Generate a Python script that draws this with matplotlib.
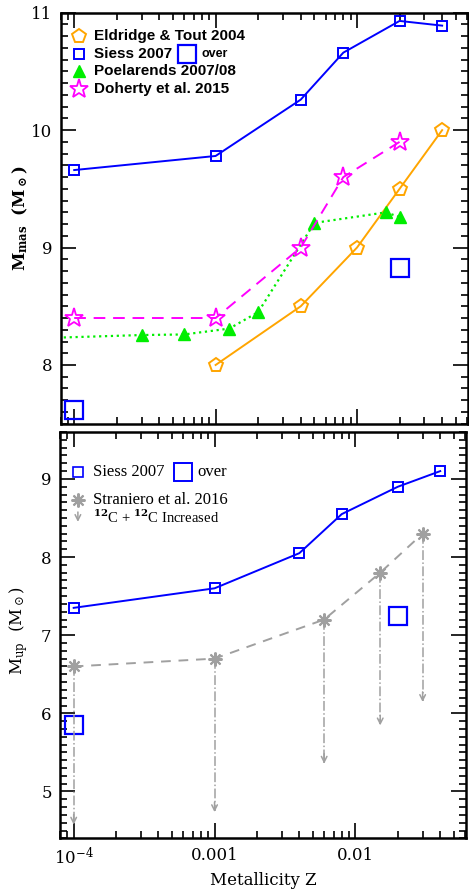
import numpy as np
import matplotlib
matplotlib.use('Agg')
from matplotlib import pyplot as plt
from matplotlib.ticker import MultipleLocator, FixedLocator, FixedFormatter, LogLocator, NullFormatter

# ---- top panel: M_mas ----
siess_z = [1e-4, 1e-3, 0.004, 0.008, 0.02, 0.04]
siess_mmas = [9.66, 9.78, 10.26, 10.66, 10.93, 10.89]
siess_over_z = [1e-4, 0.02]
siess_over_mmas = [7.62, 8.83]

eldridge_z = [1e-3, 0.004, 0.01, 0.02, 0.04]
eldridge_mmas = [8.0, 8.5, 9.0, 9.5, 10.0]

poel_z = [1e-5, 3e-4, 6e-4, 1.25e-3, 2e-3, 5e-3, 0.016, 0.02]
poel_mmas = [8.2, 8.255, 8.26, 8.31, 8.45, 9.21, 9.30, 9.26]

doherty_z = [1e-4, 1e-3, 0.004, 0.008, 0.02]
doherty_mmas = [8.40, 8.40, 9.0, 9.60, 9.90]

# ---- bottom panel: M_up ----
siess_mup = [7.35, 7.60, 8.05, 8.55, 8.90, 9.10]
siess_over_mup = [5.85, 7.25]

stran_z = [1e-4, 1e-3, 0.006, 0.015, 0.03]
stran_mup = [6.6, 6.7, 7.2, 7.8, 8.3]
stran_c12 = [4.54, 4.70, 5.32, 5.81, 6.11]   # 12C+12C increased (arrow tips)

xtick_vals = [1e-4, 1e-3, 1e-2]
xtick_labels = [r'10$^{-4}$', '0.001', '0.01']

BLUE = '#0000ff'
ORANGE = '#ffa500'
GREEN = '#00ee00'
MAGENTA = '#ff00ff'
GREY = '#a0a0a0'

plt.rcParams['font.family'] = ['DejaVu Serif']
plt.rcParams['mathtext.fontset'] = 'dejavuserif'

fig = plt.figure(figsize=(4.69, 8.89), dpi=100)
ax1 = fig.add_axes([0.129, 0.5234, 0.869, 0.4623])
ax2 = fig.add_axes([0.128, 0.057, 0.8657, 0.457])


def style_axis(ax, ylim, show_xlabels):
    ax.set_xscale('log')
    ax.set_xlim(8e-5, 0.061)
    ax.set_ylim(*ylim)
    ax.xaxis.set_major_locator(FixedLocator(xtick_vals))
    ax.xaxis.set_minor_locator(LogLocator(base=10, subs=np.arange(2, 10)))
    ax.xaxis.set_minor_formatter(NullFormatter())
    if show_xlabels:
        ax.xaxis.set_major_formatter(FixedFormatter(xtick_labels))
    else:
        ax.xaxis.set_major_formatter(NullFormatter())
    ax.yaxis.set_major_locator(MultipleLocator(1))
    ax.yaxis.set_minor_locator(MultipleLocator(0.1))
    ax.tick_params(which='both', direction='in', top=True, right=True, width=1.2)
    ax.tick_params(which='major', length=11, labelsize=12, pad=6)
    ax.tick_params(which='minor', length=5)
    for s in ax.spines.values():
        s.set_linewidth(1.8)


style_axis(ax1, (7.5, 11), False)
style_axis(ax2, (4.4, 9.6), True)

# top panel curves
ax1.plot(siess_z, siess_mmas, '-', color=BLUE, lw=1.4, marker='s', ms=7,
         mfc='none', mew=1.4)
ax1.plot(siess_over_z, siess_over_mmas, 's', color=BLUE, ms=13, mfc='none', mew=1.6)
ax1.plot(eldridge_z, eldridge_mmas, '-', color=ORANGE, lw=1.4, marker='p', ms=10,
         mfc='none', mew=1.4)
ax1.plot(poel_z, poel_mmas, ':', color=GREEN, lw=1.6, marker='^', ms=8,
         mec=GREEN, mfc=GREEN)
ax1.plot(doherty_z, doherty_mmas, '--', color=MAGENTA, lw=1.4, dashes=(6, 4),
         marker='*', ms=14, mfc='none', mew=1.3)

# top legend
T = ax1.transAxes
lx, tx = 0.045, 0.082
rows = [0.943, 0.900, 0.857, 0.814]
lfont = dict(family='Liberation Sans', weight='bold', fontsize=11,
             va='center', transform=T)
ax1.plot([lx], [rows[0]], 'p', color=ORANGE, ms=10, mfc='none', mew=1.4, transform=T)
ax1.text(tx, rows[0], 'Eldridge & Tout 2004', **lfont)
ax1.plot([lx], [rows[1]], 's', color=BLUE, ms=7, mfc='none', mew=1.4, transform=T)
ax1.text(tx, rows[1], 'Siess 2007', **lfont)
ax1.plot([0.31], [rows[1]], 's', color=BLUE, ms=13, mfc='none', mew=1.6, transform=T)
ax1.text(0.345, rows[1], 'over', family='Liberation Sans', weight='bold',
         fontsize=9, va='center', transform=T)
ax1.plot([lx], [rows[2]], '^', color=GREEN, ms=8, transform=T)
ax1.text(tx, rows[2], 'Poelarends 2007/08', **lfont)
ax1.plot([lx], [rows[3]], '*', color=MAGENTA, ms=14, mfc='none', mew=1.3, transform=T)
ax1.text(tx, rows[3], 'Doherty et al. 2015', **lfont)

ax1.set_ylabel(r'$\mathbf{M_{mas}}$  $\mathbf{(M_\odot)}$', fontsize=12)
ax1.yaxis.set_label_coords(-0.075, 0.5)

# bottom panel curves
ax2.plot(siess_z, siess_mup, '-', color=BLUE, lw=1.4, marker='s', ms=7,
         mfc='none', mew=1.4)
ax2.plot(siess_over_z, siess_over_mup, 's', color=BLUE, ms=13, mfc='none', mew=1.6)
for z, top, tip in zip(stran_z, stran_mup, stran_c12):
    ax2.plot([z, z], [top, tip + 0.05], '-.', color=GREY, lw=1.1)
    ax2.annotate('', xy=(z, tip), xytext=(z, tip + 0.2),
                 arrowprops=dict(arrowstyle='->', color=GREY, lw=1.1,
                                 mutation_scale=10))
ax2.plot(stran_z, stran_mup, '--', color=GREY, lw=1.4, dashes=(5, 4),
         marker=(8, 2, 0), ms=10, mew=1.5, mec=GREY)

# bottom legend
B = ax2.transAxes
bfont = dict(family='Liberation Serif', fontsize=12, va='center', transform=B)
ax2.plot([0.044], [0.902], 's', color=BLUE, ms=7, mfc='none', mew=1.2, transform=B)
ax2.text(0.081, 0.902, 'Siess 2007', **bfont)
ax2.plot([0.302], [0.902], 's', color=BLUE, ms=13, mfc='none', mew=1.4, transform=B)
ax2.text(0.338, 0.902, 'over', **bfont)
ax2.plot([0.044], [0.832], marker=(8, 2, 0), color=GREY, ms=10, mew=1.5, transform=B)
ax2.text(0.081, 0.832, 'Straniero et al. 2016', **bfont)
ax2.annotate('', xy=(0.044, 0.772), xytext=(0.044, 0.81), xycoords=B,
             arrowprops=dict(arrowstyle='->', color=GREY, lw=1.1, mutation_scale=10))
ax2.text(0.081, 0.791, r'$^{\mathbf{12}}$C + $^{\mathbf{12}}$C Increased',
         family='Liberation Serif', fontsize=10.5, va='center', transform=B)

ax2.set_ylabel(r'M$_{\rm up}$  (M$_\odot$)', fontsize=12)
ax2.yaxis.set_label_coords(-0.075, 0.51)
ax2.set_xlabel('Metallicity Z', fontsize=12, labelpad=3)

fig.savefig('out.png', dpi=100)
